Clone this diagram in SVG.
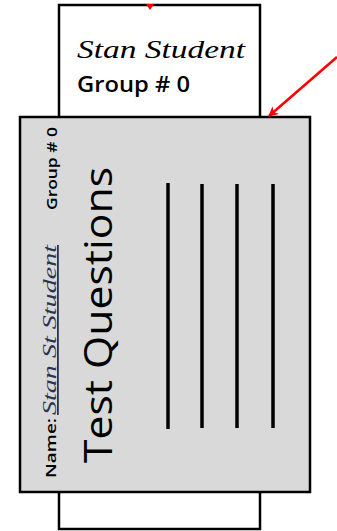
<svg xmlns="http://www.w3.org/2000/svg" width="337" height="531" viewBox="0 0 337 531">
<style>
.box{stroke:#000;stroke-width:2.5}
.rule{stroke:#000;stroke-width:3.5}
.script{font-family:"Liberation Serif","DejaVu Serif",serif;font-style:italic}
.sans{font-family:"Open Sans","Liberation Sans",sans-serif}
.arrow{stroke:#f00;stroke-width:2.5;fill:none}
</style>
<defs>
<marker id="ah" viewBox="0 0 10 10" refX="9" refY="5" markerWidth="12" markerHeight="10" orient="auto" markerUnits="userSpaceOnUse">
<path d="M0,0 L10,5 L0,10 L3,5 z" fill="#f00"/>
</marker>
</defs>
<rect width="337" height="531" fill="#fff"/>
<g id="back-card">
<rect class="box" x="59" y="5" width="201" height="524" fill="#fff"/>
<text class="script" x="77" y="58" font-size="25" textLength="168" lengthAdjust="spacingAndGlyphs">Stan Student</text>
<text class="sans" x="77" y="92" font-size="21" font-weight="600" textLength="113" lengthAdjust="spacingAndGlyphs">Group # 0</text>
</g>
<g id="front-card">
<rect class="box" x="20" y="117" width="290" height="375" fill="#d9d9d9"/>
<text class="sans" transform="translate(57,210) rotate(-90)" font-size="14" font-weight="600" textLength="83" lengthAdjust="spacingAndGlyphs">Group # 0</text>
<text class="sans" transform="translate(56,478) rotate(-90)" font-size="15" font-weight="600" textLength="60" lengthAdjust="spacingAndGlyphs">Name:</text>
<text class="script" transform="translate(56,415) rotate(-90)" font-size="18" fill="#2b3350" text-decoration="underline" textLength="170" lengthAdjust="spacingAndGlyphs">Stan St Student</text>
<text class="sans" transform="translate(112,463) rotate(-90)" font-size="38" textLength="296" lengthAdjust="spacingAndGlyphs">Test Questions</text>
<line class="rule" x1="168" y1="183" x2="168" y2="429"/>
<line class="rule" x1="202" y1="184" x2="202" y2="428"/>
<line class="rule" x1="237" y1="184" x2="237" y2="428"/>
<line class="rule" x1="273" y1="184" x2="273" y2="428"/>
</g>
<g id="connectors">
<polygon points="146,4 154,4 150,10" fill="#f00"/>
<line class="arrow" x1="337" y1="57" x2="269" y2="116" marker-end="url(#ah)"/>
</g>
</svg>
